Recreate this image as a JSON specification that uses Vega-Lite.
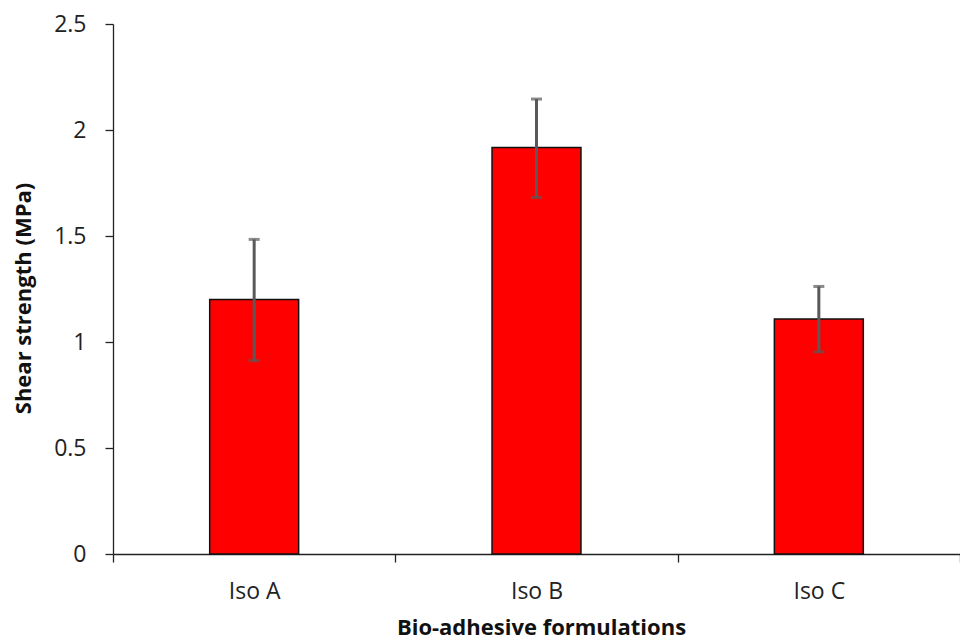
{
  "$schema": "https://vega.github.io/schema/vega-lite/v6.json",
  "width": 847,
  "height": 530,
  "autosize": {"type": "none"},
  "padding": {"left": 113, "top": 24, "right": 0, "bottom": 88},
  "background": "white",
  "config": {
    "view": {"stroke": null},
    "font": "Open Sans",
    "axis": {"labelFont": "Open Sans", "titleFont": "Open Sans", "grid": false, "domainColor": "#222", "tickColor": "#222", "domainWidth": 1.3, "tickWidth": 1.3, "labelColor": "#222", "titleColor": "#111"}
  },
  "data": {
    "values": [
      {"formulation": "Iso A", "mean": 1.2, "lower": 0.912, "upper": 1.484},
      {"formulation": "Iso B", "mean": 1.918, "lower": 1.682, "upper": 2.146},
      {"formulation": "Iso C", "mean": 1.108, "lower": 0.953, "upper": 1.262}
    ]
  },
  "encoding": {
    "x": {
      "field": "formulation",
      "type": "nominal",
      "scale": {"paddingInner": 0, "paddingOuter": 0},
      "axis": {
        "title": "Bio-adhesive formulations",
        "labelAngle": 0,
        "labelFontSize": 23,
        "labelPadding": 29,
        "labelBaseline": "middle",
        "tickBand": "extent",
        "tickSize": 8,
        "titleFontSize": 22,
        "titleFontWeight": "bold",
        "titleX": 428,
        "titleY": 73,
        "titleBaseline": "middle",
        "titleAlign": "center"
      }
    }
  },
  "layer": [
    {
      "mark": {"type": "bar", "color": "#ff0000", "stroke": "#111", "strokeWidth": 1.5, "width": {"band": 0.315}},
      "encoding": {
        "y": {
          "field": "mean",
          "type": "quantitative",
          "scale": {"domain": [0, 2.5], "nice": false},
          "axis": {
            "title": "Shear strength (MPa)",
            "values": [0, 0.5, 1, 1.5, 2, 2.5],
            "format": "~g",
            "labelFontSize": 23,
            "labelPadding": 19,
            "tickSize": 8,
            "titleFontSize": 22,
            "titleFontWeight": "bold",
            "titleX": -90,
            "titleY": 274,
            "titleAngle": -90,
            "titleBaseline": "middle",
            "titleAlign": "center"
          }
        }
      }
    },
    {
      "mark": {"type": "rule", "color": "#595959", "strokeWidth": 3},
      "encoding": {
        "y": {"field": "lower", "type": "quantitative"},
        "y2": {"field": "upper"}
      }
    },
    {
      "mark": {"type": "tick", "color": "#595959", "thickness": 3, "size": 11},
      "encoding": {"y": {"field": "lower", "type": "quantitative"}}
    },
    {
      "mark": {"type": "tick", "color": "#595959", "thickness": 3, "size": 11},
      "encoding": {"y": {"field": "upper", "type": "quantitative"}}
    }
  ]
}
